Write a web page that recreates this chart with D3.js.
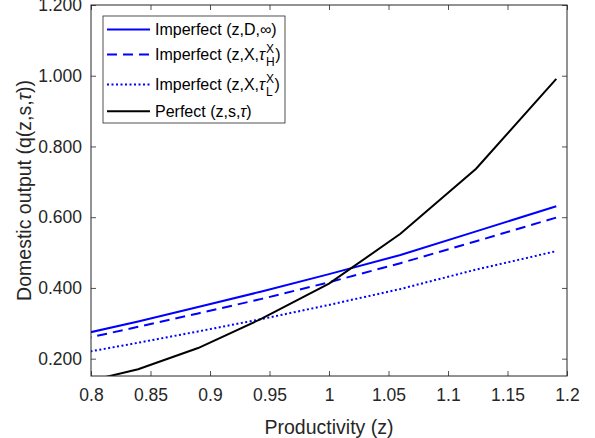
<!DOCTYPE html>
<html>
<head>
<meta charset="utf-8">
<script src="https://cdn.jsdelivr.net/npm/d3@7"></script>
<style>
  body { margin: 0; background: #fff; }
  svg { display: block; font-family: "Liberation Sans", Arial, sans-serif; }
</style>
</head>
<body>
<div id="wrapper"></div>
<script>
// Data: z grid (1.06^k) and the four series
const zValues = [0.7921, 0.8396, 0.8900, 0.9434, 1.0000, 1.0600, 1.1236, 1.1910]
const imperfectD = [0.269, 0.305, 0.346, 0.390, 0.439, 0.493, 0.560, 0.631]
const imperfectXH = [0.255, 0.290, 0.328, 0.369, 0.416, 0.470, 0.532, 0.599]
const imperfectXL = [0.216, 0.245, 0.277, 0.312, 0.352, 0.397, 0.452, 0.504]
const perfect = [0.132, 0.170, 0.230, 0.313, 0.412, 0.553, 0.737, 0.991]

const xTicks = [0.8, 0.85, 0.9, 0.95, 1, 1.05, 1.1, 1.15, 1.2]
const yTicks = [0.2, 0.4, 0.6, 0.8, 1.0, 1.2]

const series = [
  { name: "Imperfect (z,D,", sym: "∞", values: imperfectD, color: "#0000ff", dash: null },
  { name: "Imperfect (z,X,", sym: "τ", sup: "X", sub: "H", values: imperfectXH, color: "#0000ff", dash: "10,6" },
  { name: "Imperfect (z,X,", sym: "τ", sup: "X", sub: "L", values: imperfectXL, color: "#0000ff", dash: "2,2.5" },
  { name: "Perfect (z,s,", sym: "τ", values: perfect, color: "#000000", dash: null }
]

// Mitoitus
const dimensions = {
  width: 595,
  height: 438,
  margin: { top: 5, right: 28, bottom: 62, left: 91 }
}
dimensions.boundedWidth = dimensions.width - dimensions.margin.left - dimensions.margin.right
dimensions.boundedHeight = dimensions.height - dimensions.margin.top - dimensions.margin.bottom

const axisColor = "#262626"

const wrapper = d3.select("#wrapper")
  .append("svg")
  .attr("width", dimensions.width)
  .attr("height", dimensions.height)

const bounds = wrapper.append("g")
  .attr("transform", `translate(${dimensions.margin.left},${dimensions.margin.top})`)

// Skaalaimet
const xScale = d3.scaleLinear()
  .domain([0.8, 1.2])
  .range([0, dimensions.boundedWidth])

const yScale = d3.scaleLinear()
  .domain([0.151, 1.2])
  .range([dimensions.boundedHeight, 0])

bounds.append("clipPath")
  .attr("id", "clip")
  .append("rect")
  .attr("width", dimensions.boundedWidth)
  .attr("height", dimensions.boundedHeight)

// Viivat
const lineGenerator = d3.line()
  .x((d, i) => xScale(zValues[i]))
  .y(d => yScale(d))

const lines = bounds.append("g").attr("clip-path", "url(#clip)")
series.forEach(s => {
  lines.append("path")
    .attr("d", lineGenerator(s.values))
    .attr("fill", "none")
    .attr("stroke", s.color)
    .attr("stroke-width", 2)
    .attr("stroke-dasharray", s.dash)
})

// Akselit
const tickLen = 5
const xAxisBottom = d3.axisBottom(xScale).tickValues(xTicks).tickSize(-tickLen).tickPadding(12.5)
  .tickFormat(d3.format("~g"))
const xAxisTop = d3.axisTop(xScale).tickValues(xTicks).tickSize(-tickLen).tickFormat("")
const yAxisLeft = d3.axisLeft(yScale).tickValues(yTicks).tickSize(-tickLen).tickPadding(9)
  .tickFormat(d3.format(".3f"))
const yAxisRight = d3.axisRight(yScale).tickValues(yTicks).tickSize(-tickLen).tickFormat("")

function styleAxis(g) {
  g.select(".domain").remove()
  g.selectAll("line").attr("stroke", axisColor).attr("stroke-width", 0.8)
  g.selectAll("text").attr("fill", axisColor).attr("font-size", 17.5)
}

bounds.append("g")
  .attr("transform", `translate(0,${dimensions.boundedHeight})`)
  .call(xAxisBottom).call(styleAxis)
bounds.append("g").call(xAxisTop).call(styleAxis)
bounds.append("g").call(yAxisLeft).call(styleAxis)
bounds.append("g")
  .attr("transform", `translate(${dimensions.boundedWidth},0)`)
  .call(yAxisRight).call(styleAxis)

bounds.append("rect")
  .attr("width", dimensions.boundedWidth)
  .attr("height", dimensions.boundedHeight)
  .attr("fill", "none")
  .attr("stroke", axisColor)
  .attr("stroke-width", 1)

// Akselien otsikot
wrapper.append("text")
  .attr("x", dimensions.margin.left + dimensions.boundedWidth / 2)
  .attr("y", 434)
  .attr("text-anchor", "middle")
  .attr("font-size", 19.5)
  .attr("fill", axisColor)
  .text("Productivity (z)")

const yLabel = wrapper.append("text")
  .attr("transform", `translate(31,${dimensions.margin.top + dimensions.boundedHeight / 2}) rotate(-90)`)
  .attr("text-anchor", "middle")
  .attr("font-size", 19.5)
  .attr("fill", axisColor)
yLabel.append("tspan").text("Domestic output (q(z,s,")
yLabel.append("tspan").attr("font-style", "italic").text("τ")
yLabel.append("tspan").text("))")

// Legenda
const legend = wrapper.append("g")
legend.append("rect")
  .attr("x", 103).attr("y", 16)
  .attr("width", 182).attr("height", 107)
  .attr("fill", "#fff")
  .attr("stroke", axisColor)
  .attr("stroke-width", 0.8)

const legendBaselines = [35, 60, 90, 116.7]
const textX = 155
series.forEach((s, i) => {
  const by = legendBaselines[i]
  legend.append("line")
    .attr("x1", 107).attr("x2", 150)
    .attr("y1", by - 5.5).attr("y2", by - 5.5)
    .attr("stroke", s.color)
    .attr("stroke-width", 2)
    .attr("stroke-dasharray", s.dash)

  const t = legend.append("text")
    .attr("x", textX).attr("y", by)
    .attr("font-size", 16)
    .attr("fill", "#000")
  t.append("tspan").text(s.name)
  t.append("tspan").attr("font-style", s.sym === "τ" ? "italic" : null).text(s.sym)
  let endX = textX + t.node().getComputedTextLength()

  if (s.sup) {
    const sup = legend.append("text")
      .attr("x", endX + 1).attr("y", by - 7)
      .attr("font-size", 12).attr("fill", "#000").text(s.sup)
    const sub = legend.append("text")
      .attr("x", endX + 1).attr("y", by + 5.5)
      .attr("font-size", 12).attr("fill", "#000").text(s.sub)
    endX += 1 + Math.max(sup.node().getComputedTextLength(), sub.node().getComputedTextLength()) + 0.5
  }
  legend.append("text")
    .attr("x", endX).attr("y", by)
    .attr("font-size", 16).attr("fill", "#000").text(")")
})
</script>
</body>
</html>
